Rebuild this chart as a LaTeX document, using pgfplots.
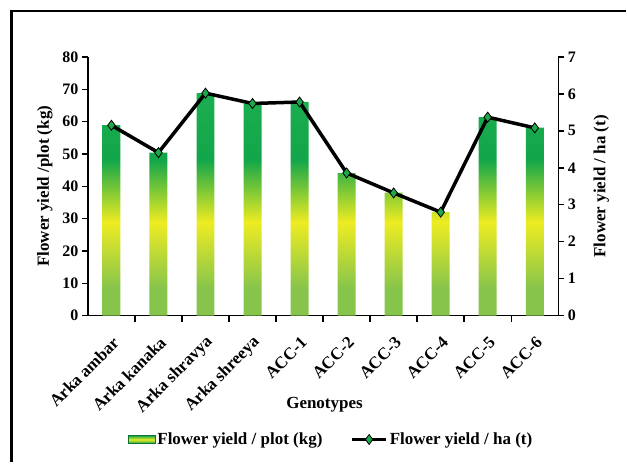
\documentclass[border=0pt]{standalone}
\usepackage{fontspec}
\setmainfont{Liberation Serif}
\usepackage{pgfplots}
\pgfplotsset{compat=1.18}
\definecolor{gLight}{HTML}{86C44C}
\definecolor{gYel}{HTML}{EEEC22}
\definecolor{gDark}{HTML}{12A64A}
\definecolor{gTop}{HTML}{1CAE50}
\definecolor{mkGreen}{HTML}{1FA84A}
\pgfdeclareverticalshading{barshade}{100bp}{color(0bp)=(gLight); color(25bp)=(gLight); color(31bp)=(gLight); color(46bp)=(gYel); color(60bp)=(gDark); color(75bp)=(gTop); color(100bp)=(gTop)}
\pgfdeclareverticalshading{legshade}{100bp}{color(0bp)=(gDark); color(25bp)=(gDark); color(50bp)=(gYel); color(75bp)=(gDark); color(100bp)=(gDark)}
\newcommand{\ff}{\fontsize{17}{20}\selectfont\bfseries}
\newcommand{\fn}{\fontsize{16}{19}\selectfont\bfseries}
\pgfplotsset{linelegimg/.style={legend image code/.code={\draw[mark repeat=2, mark phase=2, ##1] plot coordinates {(0pt,0pt) (17pt,0pt) (34pt,0pt)};}}}
\begin{document}
\begin{tikzpicture}
\path (0pt,0pt) rectangle (627pt,463pt);
\draw[line width=3pt] (11.5pt,0pt) -- (11.5pt,452.5pt);
\draw[line width=1.6pt] (10pt,452pt) -- (627pt,452pt);
\begin{axis}[
  at={(88pt,147pt)}, anchor=south west, scale only axis,
  width=471pt, height=259pt,
  xmin=-0.5, xmax=9.5, ymin=0, ymax=80,
  axis x line*=bottom, axis y line*=left,
  axis line style={line width=1.5pt, -},
  tick align=outside,
  major tick length=6pt, minor tick length=6pt,
  tick style={line width=1.5pt, black},
  xtick={0,...,9},
  minor xtick={0.5,1.5,...,8.5},
  major x tick style={draw=none},
  xticklabels={Arka ambar, Arka kanaka, Arka shravya, Arka shreeya, ACC-1, ACC-2, ACC-3, ACC-4, ACC-5, ACC-6},
  xticklabel style={font=\ff, xshift=7pt, yshift=-16pt, rotate=45, anchor=east},
  ytick={0,10,...,80},
  yticklabel style={font=\fn},
  /pgf/number format/assume math mode=true,
  ylabel={Flower yield /plot (kg)},
  ylabel style={font=\ff, at={(axis description cs:-0.0913,0.5)}, anchor=center},
  xlabel={Genotypes},
  xlabel style={font=\ff, at={(axis description cs:0.503,-0.344)}, anchor=center},
]
\addplot[ybar, bar width=18pt, draw=none, shading=barshade] coordinates {
(0,58.9) (1,50.4) (2,68.8) (3,65.6) (4,66.1) (5,44.1) (6,38.0) (7,32.0) (8,61.4) (9,58.1)};
\end{axis}
\begin{axis}[
  at={(88pt,147pt)}, anchor=south west, scale only axis,
  width=471pt, height=259pt,
  xmin=-0.5, xmax=9.5, ymin=0, ymax=7,
  axis x line=none, axis y line*=right,
  axis line style={line width=1.5pt, -},
  tick align=outside,
  major tick length=6pt,
  tick style={line width=1.5pt, black},
  ytick={0,...,7},
  yticklabel style={font=\fn},
  /pgf/number format/assume math mode=true,
  ylabel={Flower yield / ha (t)},
  ylabel style={font=\ff, at={(axis description cs:1.0913,0.5)}, anchor=center},
  legend columns=2,
  legend style={draw=none, fill=none, font=\ff, at={(axis description cs:0.517,-0.479)}, anchor=center,
    /tikz/every even column/.append style={column sep=26pt}},
]
\addlegendimage{legend image code/.code={\fill[shading=legshade] (0pt,-4pt) rectangle (27pt,4pt); \draw[gDark!70!black, line width=0.5pt] (0pt,-4pt) rectangle (27pt,4pt);}}
\addlegendentry{Flower yield / plot (kg)}
\addplot[black, line width=3.5pt, mark=diamond*, mark size=5pt,
  mark options={fill=mkGreen, draw=black, line width=0.8pt}, linelegimg]
  coordinates {(0,5.15) (1,4.41) (2,6.02) (3,5.74) (4,5.78) (5,3.86) (6,3.32) (7,2.80) (8,5.37) (9,5.08)};
\addlegendentry{Flower yield / ha (t)}
\end{axis}
\end{tikzpicture}
\end{document}
